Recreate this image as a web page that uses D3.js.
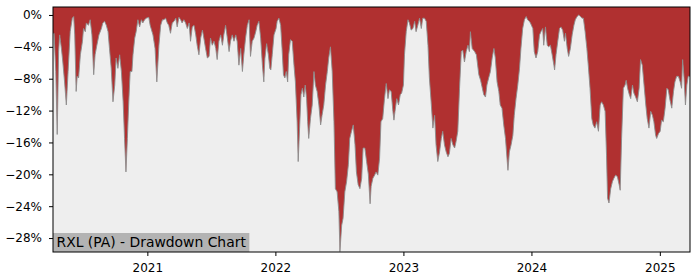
<!DOCTYPE html>
<html>
<head>
<meta charset="utf-8">
<script src="https://cdn.jsdelivr.net/npm/d3@7"></script>
<style>
  body { margin: 0; background: #fff; }
  svg { display: block; font-family: "DejaVu Sans", sans-serif; }
</style>
</head>
<body>
<div id="chart"></div>
<script>
// Drawdown readings (percent below running peak)
const dates = [
  "2020-04-07","2020-04-10","2020-04-15","2020-04-19","2020-04-23","2020-04-26","2020-05-01","2020-05-05",
  "2020-05-10","2020-05-15","2020-05-20","2020-05-26","2020-06-01","2020-06-05","2020-06-08","2020-06-12",
  "2020-06-15","2020-06-19","2020-06-24","2020-06-30","2020-07-03","2020-07-08","2020-07-11","2020-07-17",
  "2020-07-22","2020-07-27","2020-08-01","2020-08-05","2020-08-10","2020-08-16","2020-08-23","2020-08-27",
  "2020-09-01","2020-09-06","2020-09-11","2020-09-15","2020-09-20","2020-09-25","2020-09-30","2020-10-04",
  "2020-10-09","2020-10-14","2020-10-19","2020-10-24","2020-10-28","2020-11-01","2020-11-05","2020-11-09",
  "2020-11-13","2020-11-18","2020-11-21","2020-11-26","2020-11-30","2020-12-05","2020-12-10","2020-12-15",
  "2020-12-19","2020-12-24","2020-12-29","2021-01-05","2021-01-09","2021-01-17","2021-01-23","2021-01-28",
  "2021-02-03","2021-02-08","2021-02-13","2021-02-17","2021-02-22","2021-02-27","2021-03-03","2021-03-08",
  "2021-03-13","2021-03-18","2021-03-23","2021-03-27","2021-04-01","2021-04-06","2021-04-10","2021-04-15",
  "2021-04-20","2021-04-25","2021-04-30","2021-05-04","2021-05-09","2021-05-14","2021-05-19","2021-05-23",
  "2021-05-28","2021-06-02","2021-06-07","2021-06-11","2021-06-16","2021-06-21","2021-06-26","2021-06-30",
  "2021-07-05","2021-07-10","2021-07-15","2021-07-19","2021-07-24","2021-07-29","2021-08-03","2021-08-07",
  "2021-08-12","2021-08-17","2021-08-22","2021-08-26","2021-08-31","2021-09-05","2021-09-10","2021-09-14",
  "2021-09-19","2021-09-24","2021-09-29","2021-10-03","2021-10-08","2021-10-13","2021-10-18","2021-10-22",
  "2021-10-27","2021-11-01","2021-11-06","2021-11-10","2021-11-15","2021-11-20","2021-11-25","2021-11-29",
  "2021-12-02","2021-12-07","2021-12-12","2021-12-16","2021-12-19","2021-12-23","2021-12-28","2022-01-03",
  "2022-01-06","2022-01-11","2022-01-16","2022-01-20","2022-01-24","2022-01-28","2022-02-01","2022-02-05",
  "2022-02-08","2022-02-13","2022-02-18","2022-02-23","2022-02-27","2022-03-04","2022-03-07","2022-03-11",
  "2022-03-15","2022-03-19","2022-03-23","2022-03-27","2022-03-31","2022-04-03","2022-04-06","2022-04-11",
  "2022-04-16","2022-04-21","2022-04-25","2022-04-30","2022-05-05","2022-05-10","2022-05-14","2022-05-19",
  "2022-05-24","2022-05-29","2022-06-02","2022-06-07","2022-06-12","2022-06-17","2022-06-21","2022-06-26",
  "2022-07-01","2022-07-04","2022-07-09","2022-07-13","2022-07-18","2022-07-23","2022-07-28","2022-08-01",
  "2022-08-06","2022-08-11","2022-08-16","2022-08-20","2022-08-25","2022-08-30","2022-09-04","2022-09-08",
  "2022-09-13","2022-09-18","2022-09-23","2022-09-28","2022-10-01","2022-10-06","2022-10-11","2022-10-15",
  "2022-10-20","2022-10-25","2022-10-29","2022-11-03","2022-11-08","2022-11-13","2022-11-18","2022-11-22",
  "2022-11-27","2022-12-02","2022-12-05","2022-12-08","2022-12-13","2022-12-18","2022-12-23","2022-12-27",
  "2023-01-01","2023-01-04","2023-01-09","2023-01-14","2023-01-18","2023-01-23","2023-01-28","2023-02-02",
  "2023-02-06","2023-02-11","2023-02-16","2023-02-21","2023-02-25","2023-03-02","2023-03-07","2023-03-12",
  "2023-03-16","2023-03-21","2023-03-26","2023-03-31","2023-04-04","2023-04-09","2023-04-14","2023-04-19",
  "2023-04-23","2023-04-28","2023-05-03","2023-05-08","2023-05-12","2023-05-17","2023-05-22","2023-05-27",
  "2023-05-31","2023-06-05","2023-06-10","2023-06-15","2023-06-19","2023-06-24","2023-06-29","2023-07-04",
  "2023-07-08","2023-07-11","2023-07-16","2023-07-23","2023-07-28","2023-08-04","2023-08-09","2023-08-13",
  "2023-08-18","2023-08-23","2023-08-27","2023-09-01","2023-09-06","2023-09-11","2023-09-16","2023-09-20",
  "2023-09-25","2023-09-30","2023-10-04","2023-10-09","2023-10-14","2023-10-19","2023-10-24","2023-10-26",
  "2023-10-30","2023-11-04","2023-11-09","2023-11-13","2023-11-18","2023-11-23","2023-11-28","2023-12-02",
  "2023-12-07","2023-12-12","2023-12-17","2023-12-21","2023-12-26","2023-12-29","2024-01-05","2024-01-09",
  "2024-01-14","2024-01-19","2024-01-24","2024-01-28","2024-02-02","2024-02-05","2024-02-10","2024-02-15",
  "2024-02-19","2024-02-24","2024-02-29","2024-03-05","2024-03-07","2024-03-11","2024-03-16","2024-03-21",
  "2024-03-25","2024-03-30","2024-04-04","2024-04-07","2024-04-12","2024-04-16","2024-04-21","2024-04-26",
  "2024-05-01","2024-05-05","2024-05-10","2024-05-15","2024-05-20","2024-05-24","2024-05-28","2024-06-02",
  "2024-06-07","2024-06-11","2024-06-16","2024-06-21","2024-06-25","2024-06-30","2024-07-05","2024-07-10",
  "2024-07-15","2024-07-19","2024-07-24","2024-07-29","2024-08-02","2024-08-05","2024-08-09","2024-08-14",
  "2024-08-19","2024-08-23","2024-08-28","2024-09-02","2024-09-07","2024-09-10","2024-09-14","2024-09-19",
  "2024-09-24","2024-09-27","2024-10-01","2024-10-06","2024-10-10","2024-10-15","2024-10-19","2024-10-24",
  "2024-10-29","2024-11-03","2024-11-07","2024-11-12","2024-11-17","2024-11-22","2024-11-26","2024-12-01",
  "2024-12-06","2024-12-11","2024-12-15","2024-12-20","2024-12-23","2024-12-28","2025-01-02","2025-01-06",
  "2025-01-11","2025-01-16","2025-01-21","2025-01-25","2025-01-30","2025-02-04","2025-02-09","2025-02-13",
  "2025-02-18","2025-02-23","2025-02-28","2025-03-04","2025-03-07","2025-03-11","2025-03-15","2025-03-19",
  "2025-03-23","2025-03-28"
];
const drawdown = [
  -2.3,-2.3,-7.1,-15.0,-4.6,-2.5,-4.2,-5.9,
  -8.4,-11.3,-7.1,-2.1,-0.4,-0.2,-2.5,-9.6,
  -7.7,-7.9,-5.0,-3.3,-1.7,-2.1,-1.0,-1.3,
  -0.6,-2.5,-7.5,-5.0,-3.8,-2.5,-1.7,-1.0,
  -0.8,-1.3,-2.1,-4.2,-6.7,-10.9,-8.8,-5.4,
  -6.7,-5.0,-7.1,-10.9,-15.5,-19.7,-15.5,-10.9,
  -7.1,-7.1,-5.0,-2.9,-2.1,-0.6,-1.5,-0.6,
  -1.0,-0.6,-0.4,-0.3,-1.3,-2.5,-4.2,-8.4,
  -3.8,-1.3,-0.6,-0.6,-0.4,-1.0,-1.3,-2.3,
  -1.0,-0.8,-0.4,-1.5,-0.3,-0.6,-1.0,-0.6,
  -1.0,-1.7,-1.0,-3.3,-1.5,-1.3,-2.5,-3.8,
  -5.0,-2.9,-1.9,-2.9,-4.2,-5.4,-5.2,-2.9,
  -3.8,-3.3,-4.2,-5.6,-3.3,-2.5,-3.8,-2.5,
  -1.3,-2.9,-4.6,-3.3,-2.5,-3.3,-2.5,-3.3,
  -6.3,-4.2,-7.1,-5.0,-2.9,-1.3,-0.6,-5.2,
  -3.3,-2.9,-2.1,-1.3,-0.8,-2.9,-6.3,-8.4,
  -5.5,-3.6,-5.0,-6.7,-6.9,-5.0,-2.5,-1.7,
  -0.8,-0.4,-1.3,-4.2,-7.5,-7.9,-7.1,-8.4,
  -5.0,-3.1,-3.3,-6.3,-8.4,-13.4,-18.4,-14.2,
  -10.0,-9.2,-10.3,-8.8,-10.5,-13.4,-15.5,-13.0,
  -11.3,-7.1,-8.8,-9.6,-11.3,-13.8,-12.6,-11.3,
  -8.8,-7.1,-5.4,-4.0,-7.1,-13.4,-21.8,-22.2,
  -24.7,-29.7,-26.4,-25.5,-22.2,-20.9,-18.8,-15.5,
  -14.6,-13.8,-16.3,-19.7,-21.3,-21.8,-20.5,-16.7,
  -16.7,-18.4,-20.0,-23.7,-21.5,-20.5,-20.1,-19.7,
  -20.1,-18.0,-13.4,-13.0,-10.5,-8.6,-10.5,-9.4,
  -9.6,-12.1,-13.2,-12.1,-10.5,-11.3,-10.0,-9.8,
  -8.8,-5.0,-2.1,-0.6,-1.0,-1.9,-1.7,-0.8,
  -2.1,-1.3,-0.4,-1.7,-0.4,-0.4,-0.8,-3.8,
  -7.9,-10.9,-14.2,-12.6,-16.3,-18.4,-17.2,-15.5,
  -14.6,-16.3,-17.2,-17.8,-17.4,-15.5,-16.3,-16.7,
  -15.9,-14.6,-9.2,-4.6,-4.4,-5.9,-4.6,-3.8,
  -4.6,-2.1,-4.2,-4.6,-5.0,-7.5,-8.2,-9.0,
  -10.0,-10.3,-8.8,-7.9,-7.1,-5.4,-4.2,-5.4,
  -8.4,-9.6,-11.3,-11.7,-13.8,-15.5,-18.4,-19.5,
  -17.2,-16.3,-15.1,-12.6,-10.5,-8.8,-6.7,-4.2,
  -1.7,-0.6,-0.2,-0.6,-0.8,-1.0,-1.7,-4.6,
  -5.4,-4.6,-2.5,-2.1,-1.7,-3.8,-1.5,-3.8,
  -4.0,-3.8,-5.0,-6.3,-6.9,-5.0,-3.3,-1.7,
  -1.5,-1.9,-3.3,-2.3,-4.2,-5.2,-4.2,-2.5,
  -1.3,-0.6,-0.2,0.0,-0.2,-0.4,-0.4,-2.1,
  -4.2,-6.3,-9.2,-13.0,-13.8,-14.2,-13.4,-14.6,
  -11.3,-10.9,-11.3,-12.1,-17.6,-23.0,-23.6,-21.8,
  -20.9,-20.5,-20.1,-20.3,-21.3,-22.0,-15.5,-9.2,
  -8.8,-8.2,-9.2,-10.0,-10.5,-8.8,-9.8,-10.3,
  -10.9,-9.2,-5.6,-6.3,-8.8,-11.3,-13.0,-14.2,
  -12.1,-12.6,-13.4,-15.1,-15.5,-14.9,-14.6,-13.2,
  -13.4,-11.7,-9.2,-9.4,-10.7,-11.7,-9.6,-8.4,
  -7.7,-7.7,-8.4,-9.2,-5.6,-7.9,-11.3,-8.8,
  -7.7,-7.7
];
const yTicks = [0, -4, -8, -12, -16, -20, -24, -28];
const xTickYears = [2021, 2022, 2023, 2024, 2025];
const title = "RXL (PA) - Drawdown Chart";

const W = 700, H = 280;
const margin = { top: 7, right: 10, bottom: 28, left: 53 };
const width = W - margin.left - margin.right;
const height = H - margin.top - margin.bottom;

const parse = d3.timeParse("%Y-%m-%d");
const data = dates.map((d, i) => ({ date: parse(d), value: drawdown[i] }));

const svg = d3.select("#chart").append("svg")
  .attr("width", W)
  .attr("height", H);

const g = svg.append("g")
  .attr("transform", `translate(${margin.left},${margin.top})`);

const x = d3.scaleTime()
  .domain(d3.extent(data, d => d.date))
  .range([0, width]);

const y = d3.scaleLinear()
  .domain([-29.75, 1.0])
  .range([height, 0]);

// plot background
g.append("rect")
  .attr("width", width)
  .attr("height", height)
  .attr("fill", "#eeeeee");

// drawdown area, filled from the top of the axes down to the curve
const area = d3.area()
  .x(d => x(d.date))
  .y0(y(y.domain()[1]))
  .y1(d => y(d.value));

g.append("path")
  .datum(data)
  .attr("d", area)
  .attr("fill", "#b03030");

const line = d3.line()
  .x(d => x(d.date))
  .y(d => y(d.value));

g.append("path")
  .datum(data)
  .attr("d", line)
  .attr("fill", "none")
  .attr("stroke", "#8c8c8c")
  .attr("stroke-width", 0.9);

// axes
const yAxis = d3.axisLeft(y)
  .tickValues(yTicks)
  .tickSize(4)
  .tickPadding(7)
  .tickFormat(d => d3.format("d")(d) + "%");

const xAxis = d3.axisBottom(x)
  .tickValues(xTickYears.map(yr => new Date(yr, 0, 1)))
  .tickSize(4)
  .tickPadding(7)
  .tickFormat(d3.timeFormat("%Y"));

g.append("g")
  .call(yAxis)
  .call(a => a.select(".domain").remove())
  .call(a => a.selectAll("text").attr("font-size", 12).attr("fill", "#000").attr("font-family", "DejaVu Sans"))
  .call(a => a.selectAll("line").attr("stroke", "#000"));

g.append("g")
  .attr("transform", `translate(0,${height})`)
  .call(xAxis)
  .call(a => a.select(".domain").remove())
  .call(a => a.selectAll("text").attr("font-size", 12).attr("fill", "#000").attr("font-family", "DejaVu Sans"))
  .call(a => a.selectAll("line").attr("stroke", "#000"));

// title label in the lower-left corner
const label = g.append("g");
const labelBox = label.append("rect")
  .attr("x", 0)
  .attr("y", height - 19)
  .attr("height", 19)
  .attr("fill", "#b3b3b3");
const labelText = label.append("text")
  .attr("x", 3.5)
  .attr("y", height - 5.5)
  .attr("font-size", 13.9)
  .attr("fill", "#000")
  .text(title);
labelBox.attr("width", labelText.node().getComputedTextLength() + 7);

// frame
g.append("rect")
  .attr("width", width)
  .attr("height", height)
  .attr("fill", "none")
  .attr("stroke", "#000")
  .attr("stroke-width", 1);
</script>
</body>
</html>
